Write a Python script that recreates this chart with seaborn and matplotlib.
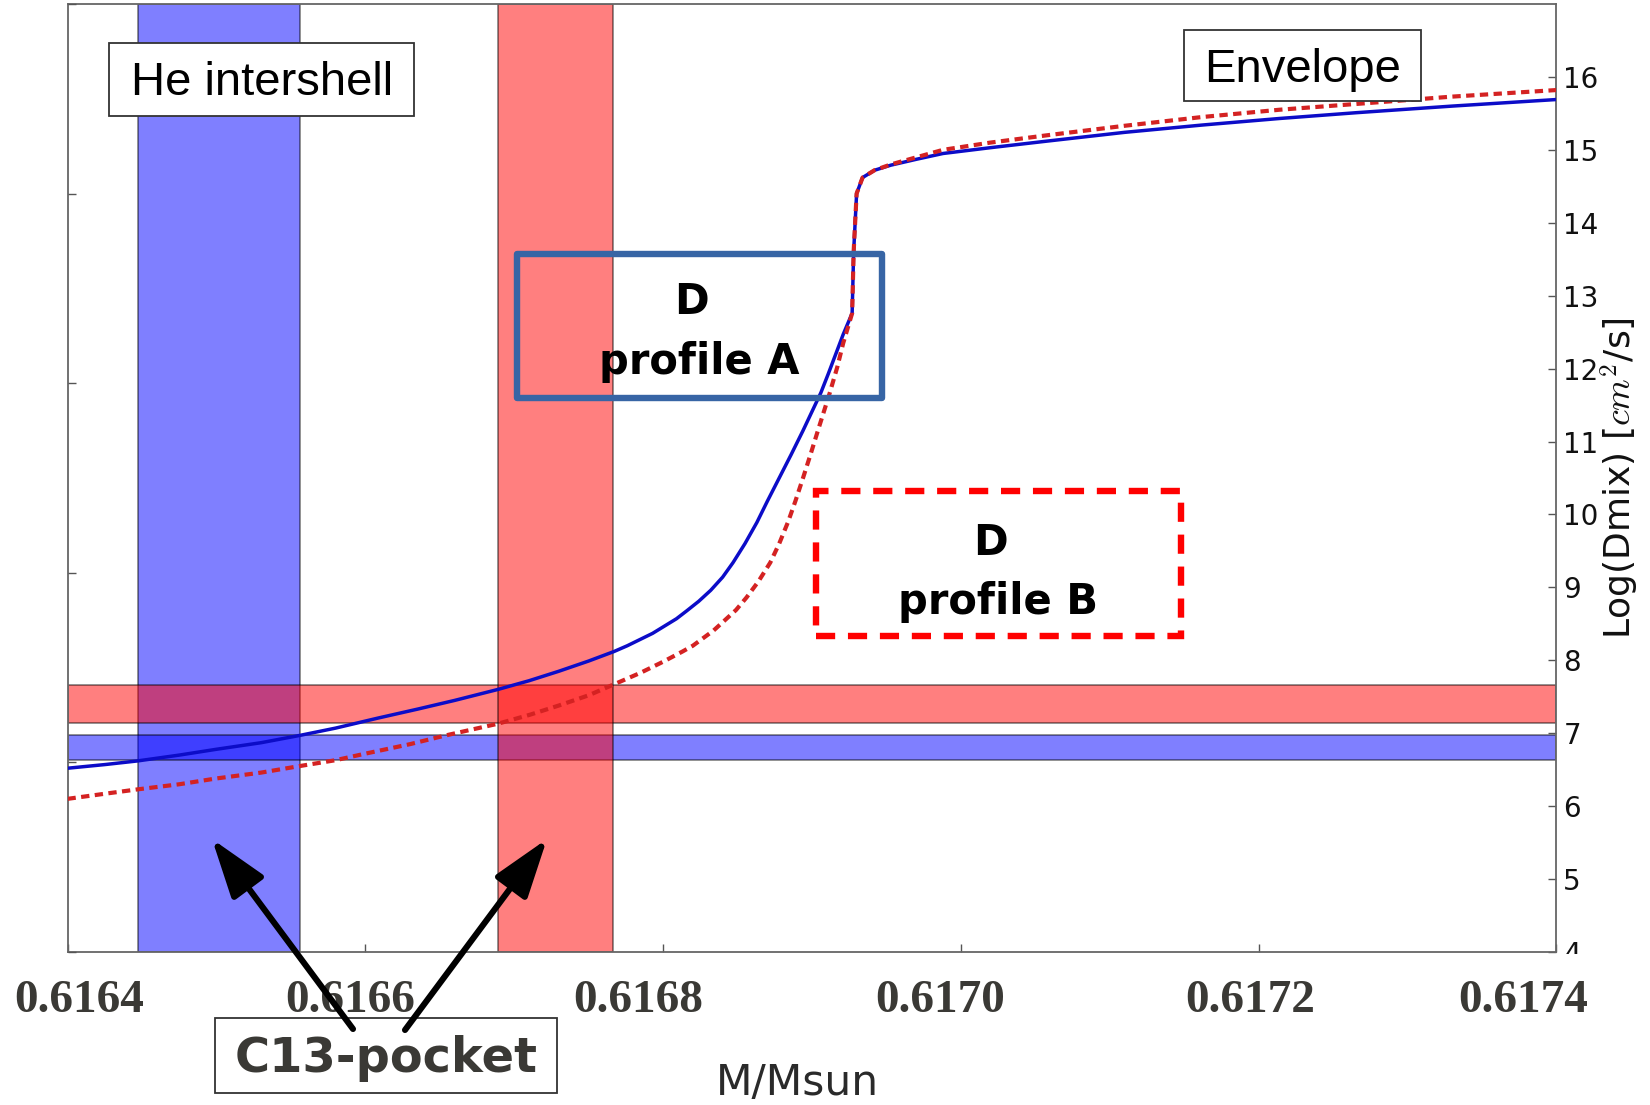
import matplotlib
matplotlib.use("Agg")
import matplotlib.pyplot as plt
import numpy as np
import pandas as pd
import seaborn as sns
from matplotlib.patches import Rectangle, FancyArrowPatch
from matplotlib.transforms import ScaledTranslation

# ---------------------------------------------------------------------------
# Data: mixing coefficient log(D) versus mass coordinate for two profiles
# ---------------------------------------------------------------------------
mass_a = [0.6164000, 0.6164250, 0.6164470, 0.6164750, 0.6165000, 0.6165300,
          0.6165560, 0.6165800, 0.6166090, 0.6166350, 0.6166600, 0.6166890,
          0.6167100, 0.6167300, 0.6167500, 0.6167670, 0.6167760, 0.6167850,
          0.6167930, 0.6168010, 0.6168090, 0.6168160, 0.6168240, 0.6168320,
          0.6168400, 0.6168470, 0.6168550, 0.6168630, 0.6168700, 0.6168780,
          0.6168860, 0.6168940, 0.6169000, 0.6169060, 0.6169110, 0.6169160,
          0.6169210, 0.6169270, 0.6169280, 0.6169300, 0.6169340, 0.6169420,
          0.6169530, 0.6169700, 0.6169880, 0.6170200, 0.6170580, 0.6171100,
          0.6171620, 0.6172140, 0.6172660, 0.6173300, 0.6174000]
logd_a = [6.52, 6.57, 6.62, 6.70, 6.78, 6.87,
          6.97, 7.07, 7.21, 7.33, 7.45, 7.60,
          7.72, 7.85, 7.99, 8.12, 8.20, 8.29,
          8.37, 8.47, 8.57, 8.68, 8.81, 8.96,
          9.14, 9.34, 9.60, 9.89, 10.18, 10.50,
          10.82, 11.15, 11.41, 11.67, 11.93, 12.20,
          12.47, 12.76, 13.60, 14.40, 14.62, 14.72,
          14.79, 14.87, 14.95, 15.03, 15.12, 15.24,
          15.34, 15.43, 15.51, 15.60, 15.69]

mass_b = [0.6164000, 0.6164250, 0.6164470, 0.6164750, 0.6165000, 0.6165300,
          0.6165560, 0.6165800, 0.6166000, 0.6166300, 0.6166540, 0.6166890,
          0.6167100, 0.6167300, 0.6167500, 0.6167670, 0.6167850, 0.6168000,
          0.6168130, 0.6168200, 0.6168260, 0.6168340, 0.6168410, 0.6168490,
          0.6168560, 0.6168640, 0.6168720, 0.6168780, 0.6168840, 0.6168890,
          0.6168940, 0.6168990, 0.6169040, 0.6169080, 0.6169120, 0.6169170,
          0.6169210, 0.6169270, 0.6169280, 0.6169300, 0.6169340, 0.6169420,
          0.6169530, 0.6169880, 0.6170200, 0.6170580, 0.6171100, 0.6171620,
          0.6172140, 0.6172660, 0.6173300, 0.6174000]
logd_b = [6.10, 6.17, 6.23, 6.30, 6.38, 6.46,
          6.55, 6.63, 6.72, 6.85, 6.97, 7.13,
          7.25, 7.38, 7.52, 7.67, 7.83, 7.98,
          8.12, 8.20, 8.29, 8.41, 8.54, 8.69,
          8.86, 9.08, 9.34, 9.60, 9.90, 10.19,
          10.50, 10.82, 11.15, 11.41, 11.67, 12.02,
          12.35, 12.76, 13.60, 14.40, 14.62, 14.72,
          14.80, 15.00, 15.10, 15.20, 15.33, 15.45,
          15.55, 15.63, 15.73, 15.82]

# C13-pocket extents: mass ranges and log(D) ranges for each profile
pocket_mass_a = (0.6164473, 0.6165560)
pocket_mass_b = (0.6166890, 0.6167667)
pocket_logd_a = (6.63, 6.98)
pocket_logd_b = (7.14, 7.66)

xtick_vals = [0.6164, 0.6166, 0.6168, 0.6170, 0.6172, 0.6174]
xtick_labels = ["0.6164", "0.6166", "0.6168", "0.6170", "0.6172", "0.6174"]
ytick_vals = list(range(4, 17))

# ---------------------------------------------------------------------------
# Figure
# ---------------------------------------------------------------------------
sns.set_theme(style="white")
plt.rcParams["font.family"] = ["DejaVu Sans"]
plt.rcParams["mathtext.fontset"] = "cm"

W, H = 1650, 1105
fig = plt.figure(figsize=(W / 100, H / 100), dpi=100)


def fx(px):
    return px / W


def fy(py):
    return 1 - py / H


ax = fig.add_axes([fx(67.5), fy(952), fx(1556.4) - fx(67.5), fy(4) - fy(952)])
ax_left = ax.twinx()

# shaded pocket bands (blue first, red over them)
ax.axvspan(*pocket_mass_a, facecolor="#0000ff", edgecolor="black", alpha=0.5, lw=1.2, zorder=1)
ax.axhspan(*pocket_logd_a, facecolor="#0000ff", edgecolor="black", alpha=0.5, lw=1.2, zorder=1)
ax.axhspan(*pocket_logd_b, facecolor="#ff0000", edgecolor="black", alpha=0.5, lw=1.2, zorder=1)
ax.axvspan(*pocket_mass_b, facecolor="#ff0000", edgecolor="black", alpha=0.5, lw=1.2, zorder=1)

df_a = pd.DataFrame({"mass": mass_a, "logD": logd_a})
df_b = pd.DataFrame({"mass": mass_b, "logD": logd_b})
sns.lineplot(data=df_a, x="mass", y="logD", ax=ax, color="#0c0cc8", lw=2.5,
             estimator=None, sort=False, zorder=3)
sns.lineplot(data=df_b, x="mass", y="logD", ax=ax, color="#d42222", lw=3.0,
             linestyle=(0, (2.0, 1.3)), estimator=None, sort=False, zorder=4)

ax.set_xlim(0.6164, 0.6174)
ax.set_ylim(4, 17)

# right-hand value axis
ax.yaxis.tick_right()
ax.yaxis.set_label_position("right")
ax.set_yticks(ytick_vals)
ax.set_yticklabels([str(v) for v in ytick_vals])
ax.tick_params(axis="y", direction="in", length=6, width=1.0, color="#555555",
               labelcolor="#111111", labelsize=20, pad=5, left=False, right=True)

# bottom axis
ax.set_xticks(xtick_vals)
ax.set_xticklabels(xtick_labels, fontfamily="Liberation Serif", fontweight="bold",
                   fontsize=34, color="#3a3935")
ax.tick_params(axis="x", direction="in", length=6, width=1.0, color="#555555",
               pad=20, top=False, bottom=True)
xlabel_shift_px = [12, -15, -25, -21, -8, -33]
for lab, dx in zip(ax.get_xticklabels(), xlabel_shift_px):
    lab.set_transform(lab.get_transform() + ScaledTranslation(dx / 100, 0, fig.dpi_scale_trans))

ax.set_xlabel("M/Msun", fontsize=30.5, color="#2a2a2a")
ax.xaxis.set_label_coords(0.49, -0.151)
ax.xaxis.label.set_verticalalignment("baseline")

ax.set_ylabel("Log(Dmix) [$cm^2$/s]", fontsize=26, color="#111111")
ax.yaxis.set_label_coords(1.0427, 0.5)
ax.yaxis.label.set_verticalalignment("center")

# unlabeled left-hand ticks
ax_left.yaxis.tick_left()
ax_left.set_ylim(0, 5)
ax_left.set_yticks([0, 1, 2, 3, 4, 5])
ax_left.set_yticklabels([])
ax_left.tick_params(axis="y", direction="in", length=6, width=1.0, color="#555555",
                    left=True, right=False)
for s in ax_left.spines.values():
    s.set_visible(False)

for s in ax.spines.values():
    s.set_color("#666666")
    s.set_linewidth(1.3)
ax.grid(False)
ax_left.grid(False)

# ---------------------------------------------------------------------------
# Annotation boxes, texts and arrows (figure pixel layout)
# ---------------------------------------------------------------------------


def fig_box(x0, y0, x1, y1, **kw):
    r = Rectangle((fx(x0), fy(y1)), fx(x1) - fx(x0), fy(y0) - fy(y1),
                  transform=fig.transFigure, **kw)
    fig.add_artist(r)
    return r


# hide the lower half of the bottom right-axis label
fig_box(1559, 954, 1606, 976, facecolor="white", edgecolor="none", zorder=5)

fig_box(109.3, 43.3, 414.3, 116, facecolor="white", edgecolor="#333333", lw=1.3, zorder=10)
fig.text(fx(262), fy(95), "He intershell", ha="center", va="baseline",
         fontsize=34, family="Liberation Sans", color="black", zorder=11)

fig_box(1184, 29.5, 1421, 101, facecolor="white", edgecolor="#333333", lw=1.3, zorder=10)
fig.text(fx(1302.5), fy(82), "Envelope", ha="center", va="baseline",
         fontsize=34, family="Liberation Sans", color="black", zorder=11)

box_a = fig_box(516.7, 253.6, 881.8, 397.8, facecolor="none", edgecolor="#3765a5",
                lw=4.6, zorder=10)
box_a.set_joinstyle("round")
fig.text(fx(691.4), fy(313.5), "D", ha="center", va="baseline", fontsize=30,
         fontweight="bold", color="black", zorder=11)
fig.text(fx(699.5), fy(374), "profile A", ha="center", va="baseline", fontsize=30,
         fontweight="bold", color="black", zorder=11)

box_b = fig_box(815.5, 491.4, 1180.7, 635.6, facecolor="none", edgecolor="#ff0000",
                lw=4.6, linestyle=(0, (3.0, 2.0)), zorder=10)
fig.text(fx(990.2), fy(555), "D", ha="center", va="baseline", fontsize=30,
         fontweight="bold", color="black", zorder=11)
fig.text(fx(997.6), fy(614), "profile B", ha="center", va="baseline", fontsize=30,
         fontweight="bold", color="black", zorder=11)

fig_box(215, 1018, 557, 1093, facecolor="white", edgecolor="#333333", lw=1.3, zorder=10)
fig.text(fx(386.5), fy(1072), "C13-pocket", ha="center", va="baseline", fontsize=34.5,
         fontweight="bold", color="#3a3935", zorder=11)

for tail, tip in [((353, 1029), (212, 839)), ((405, 1030), (547, 839))]:
    arr = FancyArrowPatch((fx(tail[0]), fy(tail[1])), (fx(tip[0]), fy(tip[1])),
                          transform=fig.transFigure,
                          arrowstyle="-|>,head_length=36,head_width=12",
                          mutation_scale=1, lw=4.4, color="black",
                          shrinkA=0, shrinkB=0, zorder=12)
    fig.add_artist(arr)

fig.savefig("out.png", dpi=100, facecolor="white")
